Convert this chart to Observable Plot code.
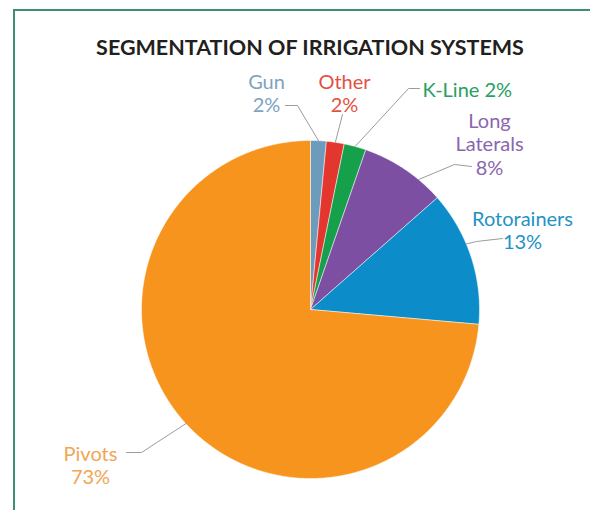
<!DOCTYPE html>
<html><head><meta charset="utf-8">
<script src="https://cdn.jsdelivr.net/npm/d3@7"></script>
<script src="https://cdn.jsdelivr.net/npm/@observablehq/plot@0.6"></script>
<style>
body{margin:0;background:#fff;}
#wrap{position:relative;width:590px;height:510px;overflow:hidden;}
#frame{position:absolute;left:13px;top:9px;width:600px;height:600px;border-top:2px solid #3f8e70;border-left:2px solid #3f8e70;pointer-events:none;}
</style>
</head><body><div id="wrap"><div id="chart"></div><div id="frame"></div></div>
<script>
// ---- data ----
const title = "SEGMENTATION OF IRRIGATION SYSTEMS";
const categories = ["Gun", "Other", "K-Line", "Long Laterals", "Rotorainers", "Pivots"];
const shares = [1.5, 1.7, 2.1, 8.2, 12.9, 73.6];
const shareLabels = ["2%", "2%", "2%", "8%", "13%", "73%"];

// ---- styles ----
const sliceColors = ["#6c9bbd", "#e2362f", "#17a04b", "#7c4fa3", "#0c8dca", "#f7941d"];
const labelColors = ["#7ea3bf", "#e5503f", "#27a061", "#8a66af", "#1f92c6", "#f2a553"];

// ---- layout (pixels) ----
const W = 590, H = 510, CX = 310, CY = 309, R = 169;
const FS = 20, LH = 23.5;
const TFS = 21.5;
const labelLayout = {
  "Gun":           {x: 266, y: 86,  anchor: "middle", split: "two",   leader: [[285, 105], [297, 105]], t: 0.5},
  "Other":         {x: 344, y: 86,  anchor: "middle", split: "two",   leader: [[342, 114]], t: 0.5},
  "K-Line":        {x: 422, y: 94,  anchor: "start",  split: "one",   leader: [[419, 88], [408, 88]], t: 0.5},
  "Long Laterals": {x: 489, y: 125, anchor: "middle", split: "words", leader: [[471, 166], [454, 164]], t: 0.7},
  "Rotorainers":   {x: 522, y: 223, anchor: "middle", split: "two",   leader: [[502, 238], [476, 241]], t: 0.4},
  "Pivots":        {x: 90,  y: 458, anchor: "middle", split: "two",   leader: [[126, 452], [141, 452]], t: 0.5}
};

const ux = px => (px - CX) / R;
const uy = py => (CY - py) / R;

const arcs = d3.pie().sort(null).startAngle(0).endAngle(2 * Math.PI)(shares);

const slicePts = [];
arcs.forEach((a, i) => {
  const name = categories[i];
  slicePts.push({name, x: 0, y: 0});
  const n = Math.max(4, Math.ceil((a.endAngle - a.startAngle) / 0.01));
  for (let k = 0; k <= n; k++) {
    const t = a.startAngle + (a.endAngle - a.startAngle) * k / n;
    slicePts.push({name, x: Math.sin(t), y: Math.cos(t)});
  }
  slicePts.push({name, x: 0, y: 0});
});

const leaderPts = [];
arcs.forEach((a, i) => {
  const name = categories[i];
  const L = labelLayout[name];
  L.leader.forEach(([px, py]) => leaderPts.push({name, x: ux(px), y: uy(py)}));
  const ang = a.startAngle + (a.endAngle - a.startAngle) * L.t;
  leaderPts.push({name, x: Math.sin(ang), y: Math.cos(ang)});
});

const textMarks = categories.map((name, i) => {
  const L = labelLayout[name];
  let lines;
  if (L.split === "one") lines = [name + " " + shareLabels[i]];
  else if (L.split === "words") lines = [...name.split(" "), shareLabels[i]];
  else lines = [name, shareLabels[i]];
  return Plot.text([lines.join("\n")], {
    x: ux(L.x), y: uy(L.y - 0.71 * FS), text: d => d,
    textAnchor: L.anchor, lineAnchor: "top", lineHeight: LH / FS,
    fill: labelColors[i], fontSize: FS, fontFamily: "Lato"
  });
});

const chart = Plot.plot({
  width: W, height: H, margin: 0,
  x: {domain: [ux(0), ux(W)], axis: null},
  y: {domain: [uy(H), uy(0)], axis: null},
  color: {domain: categories, range: sliceColors},
  style: {background: "transparent"},
  marks: [
    Plot.line(slicePts, {x: "x", y: "y", z: "name", fill: "name", stroke: "white", strokeWidth: 0.5, curve: "linear"}),
    Plot.line(leaderPts, {x: "x", y: "y", z: "name", stroke: "#9c9c9c", strokeWidth: 1}),
    ...textMarks,
    Plot.text([title], {x: ux(309.5), y: uy(54 - 0.71 * TFS), text: d => d, lineAnchor: "top",
      fontSize: TFS, fontWeight: "bold", fontFamily: "Lato", fill: "#231f20"})
  ]
});
document.getElementById("chart").appendChild(chart);
</script>
</body></html>
